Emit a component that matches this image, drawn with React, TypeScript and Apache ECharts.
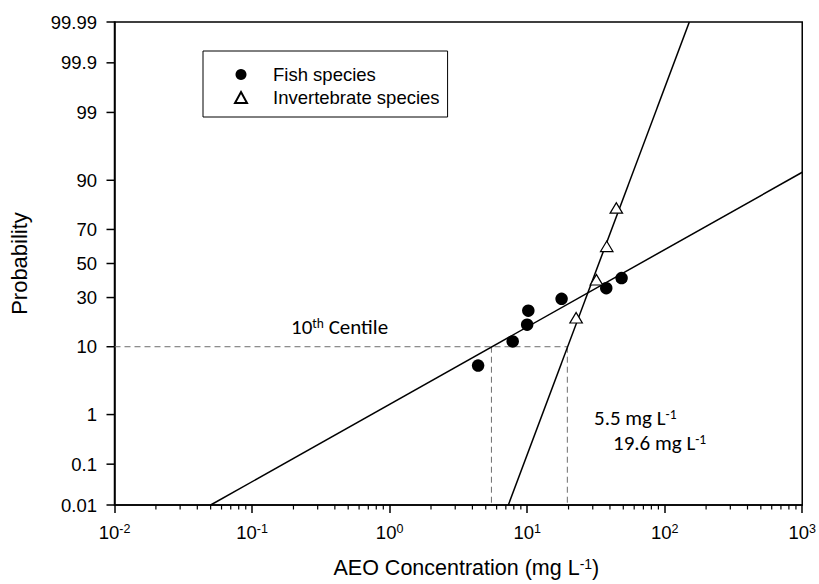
import React, { useEffect, useRef } from "react";
import * as echarts from "echarts";

// Observed toxicity values (mg/L) and their cumulative probabilities (%)
const fishConc = [4.4, 7.85, 10.0, 10.2, 17.8, 37.6, 48.6];
const fishProb = [5.8, 11.5, 17.3, 23.4, 29.3, 35.2, 41.1];
const invConc = [22.7, 31.9, 37.9, 44.5];
const invProb = [20.2, 40.1, 60.4, 80.4];

// Fitted log-normal distributions, given by their end points
const fishFitConc = [0.05, 1000];
const fishFitProb = [0.01, 92];
const invFitConc = [7.3, 151];
const invFitProb = [0.01, 99.99];

// 10th centile (hazardous concentration) for each group
const centileProb = 10;
const fishHC10 = 5.5;
const invHC10 = 19.6;

// Axes
const yTickLabels = ["0.01", "0.1", "1", "10", "30", "50", "70", "90", "99", "99.9", "99.99"];
const xMin = 0.01;
const xMax = 1000;
const minorMultipliers = [2, 3, 4, 5, 6, 7, 8, 9];
const decades = [0.01, 0.1, 1, 10, 100];

const ARIAL = "'Liberation Sans', Arial, sans-serif";
const CALIBRI = "Carlito, Lato, sans-serif";

// Inverse standard normal CDF (Acklam's approximation)
function probit(p: number): number {
  const a = [-3.969683028665376e1, 2.209460984245205e2, -2.759285104469687e2, 1.38357751867269e2, -3.066479806614716e1, 2.506628277459239];
  const b = [-5.447609879822406e1, 1.615858368580409e2, -1.556989798598866e2, 6.680131188771972e1, -1.328068155288572e1];
  const c = [-7.784894002430293e-3, -3.223964580411365e-1, -2.400758277161838, -2.549732539343734, 4.374664141464968, 2.938163982698783];
  const d = [7.784695709041462e-3, 3.224671290700398e-1, 2.445134137142996, 3.754408661907416];
  const pl = 0.02425;
  if (p < pl) {
    const q = Math.sqrt(-2 * Math.log(p));
    return (((((c[0] * q + c[1]) * q + c[2]) * q + c[3]) * q + c[4]) * q + c[5]) / ((((d[0] * q + d[1]) * q + d[2]) * q + d[3]) * q + 1);
  }
  if (p <= 1 - pl) {
    const q = p - 0.5;
    const r = q * q;
    return ((((((a[0] * r + a[1]) * r + a[2]) * r + a[3]) * r + a[4]) * r + a[5]) * q) / (((((b[0] * r + b[1]) * r + b[2]) * r + b[3]) * r + b[4]) * r + 1);
  }
  const q = Math.sqrt(-2 * Math.log(1 - p));
  return -(((((c[0] * q + c[1]) * q + c[2]) * q + c[3]) * q + c[4]) * q + c[5]) / ((((d[0] * q + d[1]) * q + d[2]) * q + d[3]) * q + 1);
}

const z = (pct: number) => probit(pct / 100);
const toPoints = (xs: number[], ps: number[]) => xs.map((x, i) => [x, z(ps[i])]);

const annotationRich = {
  a: { fontSize: 21, fontFamily: CALIBRI, fill: "#000", lineHeight: 22 },
  s: { fontSize: 13.5, fontFamily: CALIBRI, fill: "#000", verticalAlign: "top", lineHeight: 13 },
};

export default function App() {
  const ref = useRef<HTMLDivElement>(null);

  useEffect(() => {
    document.body.style.margin = "0";
    if (!ref.current) return;
    const chart = echarts.init(ref.current, null, { renderer: "svg" });

    const yMin = z(parseFloat(yTickLabels[0]));
    const yMax = z(parseFloat(yTickLabels[yTickLabels.length - 1]));
    const minorTicks: number[][] = [];
    decades.forEach((d) => minorMultipliers.forEach((m) => minorTicks.push([d * m, yMin])));

    const dashed = {
      type: "line",
      symbol: "none",
      silent: true,
      lineStyle: { color: "#6e6e6e", width: 1, type: [6, 4] },
      z: 1,
    };

    chart.setOption({
      animation: false,
      grid: {
        left: 114.5,
        right: 14,
        top: 22,
        bottom: 79,
        show: true,
        borderColor: "#000",
        borderWidth: 1.5,
      },
      legend: {
        orient: "vertical",
        left: 203,
        top: 51,
        data: ["Fish species", "Invertebrate species"],
        itemWidth: 12,
        itemHeight: 11,
        itemGap: 4,
        padding: [14, 8, 10, 31],
        borderColor: "#000",
        borderWidth: 1,
        selectedMode: false,
        textStyle: { fontSize: 18.5, fontFamily: ARIAL, color: "#000", padding: [0, 0, 0, 21] },
      },
      xAxis: {
        type: "log",
        logBase: 10,
        min: xMin,
        max: xMax,
        name: "AEO Concentration (mg L{sup|-1})",
        nameLocation: "middle",
        nameGap: 52,
        nameTextStyle: {
          fontSize: 21.5,
          fontFamily: ARIAL,
          color: "#000",
          padding: [0, 0, 0, 16],
          rich: {
            sup: { fontSize: 14, fontFamily: ARIAL, color: "#000", verticalAlign: "top", lineHeight: 14 },
          },
        },
        axisLine: { onZero: false, lineStyle: { color: "#000", width: 1.5 } },
        axisTick: { show: true, length: 8, lineStyle: { color: "#000", width: 1.5 } },
        splitLine: { show: false },
        minorTick: { show: false },
        axisLabel: {
          margin: 17,
          formatter: (v: number) => `{b|10}{sup|${Math.round(Math.log10(v))}}`,
          rich: {
            b: { fontSize: 18.5, fontFamily: ARIAL, color: "#000", lineHeight: 20 },
            sup: { fontSize: 12.5, fontFamily: ARIAL, color: "#000", verticalAlign: "top", lineHeight: 12 },
          },
        },
      },
      yAxis: {
        type: "value",
        min: yMin,
        max: yMax,
        name: "Probability",
        nameLocation: "middle",
        nameGap: 84,
        nameTextStyle: { fontSize: 22, fontFamily: ARIAL, color: "#000" },
        axisLine: { show: true, onZero: false, lineStyle: { color: "#000", width: 1.5 } },
        axisTick: { show: false },
        axisLabel: { show: false },
        splitLine: { show: false },
      },
      series: [
        { ...dashed, name: "centile", data: [[xMin, z(centileProb)], [invHC10, z(centileProb)]] },
        { ...dashed, name: "fishHC", data: [[fishHC10, z(centileProb)], [fishHC10, yMin]] },
        { ...dashed, name: "invHC", data: [[invHC10, z(centileProb)], [invHC10, yMin]] },
        {
          type: "line",
          name: "fishFit",
          symbol: "none",
          silent: true,
          data: toPoints(fishFitConc, fishFitProb),
          lineStyle: { color: "#000", width: 1.5 },
          z: 2,
        },
        {
          type: "line",
          name: "invFit",
          symbol: "none",
          silent: true,
          data: toPoints(invFitConc, invFitProb),
          lineStyle: { color: "#000", width: 1.5 },
          z: 2,
        },
        {
          type: "scatter",
          name: "Fish species",
          symbol: "circle",
          symbolSize: 12.5,
          data: toPoints(fishConc, fishProb),
          itemStyle: { color: "#000", opacity: 1 },
          z: 3,
        },
        {
          type: "scatter",
          name: "Invertebrate species",
          symbol: "triangle",
          symbolSize: [12.5, 10.5],
          data: toPoints(invConc, invProb),
          itemStyle: { color: "#fff", borderColor: "#000", borderWidth: 1.2, opacity: 1 },
          z: 4,
        },
        {
          // probability tick marks and labels on the left axis
          type: "custom",
          name: "yTicks",
          silent: true,
          clip: false,
          data: yTickLabels.map((t) => [xMin, z(parseFloat(t))]),
          renderItem: (params: any, api: any) => {
            const p = api.coord([api.value(0), api.value(1)]);
            return {
              type: "group",
              children: [
                {
                  type: "line",
                  shape: { x1: p[0] - 8, y1: p[1], x2: p[0], y2: p[1] },
                  style: { stroke: "#000", lineWidth: 1.5 },
                },
                {
                  type: "text",
                  x: p[0] - 17.5,
                  y: p[1],
                  style: {
                    text: yTickLabels[params.dataIndex],
                    align: "right",
                    verticalAlign: "middle",
                    fontSize: 18.5,
                    fontFamily: ARIAL,
                    fill: "#000",
                  },
                },
              ],
            };
          },
        },
        {
          // minor ticks of the log axis (2..9 within each decade)
          type: "custom",
          name: "xMinor",
          silent: true,
          clip: false,
          data: minorTicks,
          renderItem: (params: any, api: any) => {
            const p = api.coord([api.value(0), api.value(1)]);
            return {
              type: "line",
              shape: { x1: p[0], y1: p[1], x2: p[0], y2: p[1] + 4.5 },
              style: { stroke: "#000", lineWidth: 1.2 },
            };
          },
        },
      ],
      graphic: [
        {
          type: "text",
          left: 291,
          top: 316,
          style: { text: "{a|10}{s|th}{a| Centile}", rich: annotationRich },
        },
        {
          type: "text",
          left: 594,
          top: 407,
          style: { text: "{a|5.5 mg L}{s|-1}", rich: annotationRich },
        },
        {
          type: "text",
          left: 613,
          top: 432,
          style: { text: "{a|19.6 mg L}{s|-1}", rich: annotationRich },
        },
      ],
    });

    return () => chart.dispose();
  }, []);

  return <div ref={ref} style={{ position: "absolute", left: 0, top: 0, width: 819, height: 584 }} />;
}
